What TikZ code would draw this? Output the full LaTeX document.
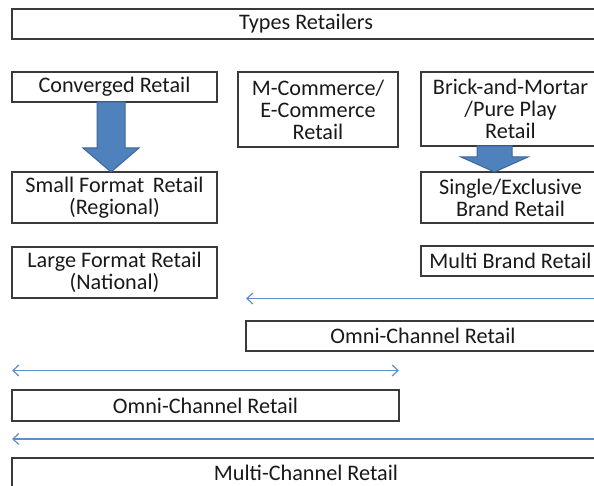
\documentclass[tikz,border=0pt]{standalone}
\usepackage{fontspec}
\setmainfont{Carlito}
\usetikzlibrary{arrows.meta}
\definecolor{boxline}{HTML}{3A3A3A}
\definecolor{arrowfill}{HTML}{4F81BD}
\definecolor{arrowedge}{HTML}{3C679A}
\definecolor{linkblue}{HTML}{5F8FCB}
\tikzset{
  box/.style={draw=boxline, line width=1.2pt, inner sep=0pt, outer sep=0pt,
    align=center, font=\fontsize{22.2}{22}\selectfont, text=black!90},
  fatarrow/.style={fill=arrowfill, draw=arrowedge, line width=1pt, line join=miter},
  link/.style={draw=linkblue, line width=1.2pt,
    arrows={-Straight Barb[length=6pt,width=11pt,line width=1.2pt]}},
  biglink/.style={link, arrows={Straight Barb[length=6pt,width=11pt,line width=1.2pt]-Straight Barb[length=6pt,width=11pt,line width=1.2pt]}}
}
\begin{document}
\begin{tikzpicture}[x=1pt, y=-1pt]
\useasboundingbox (0,0) rectangle (594,486);

% boxes (given by their corner spans)
\newcommand{\rbox}[6]{%
  \node[box, minimum width={#4-#2}, minimum height={#5-#3}]
    (#1) at ({(#2+#4)/2},{(#3+#5)/2}) {#6};}
\rbox{types}{12}{9}{600}{39}{Types Retailers}
\rbox{conv}{12}{72}{217}{102}{Converged Retail}
\rbox{mcom}{238}{72}{398}{147}{M-Commerce/\\E-Commerce\\Retail}
\rbox{brick}{421}{72}{600}{146}{Brick-and-Mortar\\/Pure Play\\Retail}
\rbox{small}{12}{172}{217}{223}{Small Format\ \,Retail\\(Regional)}
\rbox{large}{12}{247}{217}{298}{Large Format Retail\\(National)}
\rbox{single}{421}{172}{600}{223}{Single/Exclusive\\Brand Retail}
\rbox{multib}{421}{246}{600}{276}{Multi Brand Retail}
\rbox{omnia}{246}{321}{600}{351}{Omni-Channel Retail}
\rbox{omnib}{12}{390}{399}{421}{Omni-Channel Retail}
\rbox{multic}{12}{458}{600}{488}{Multi-Channel Retail}

% block arrows
\fill[fatarrow] (97,102) -- (125,102) -- (125,148) -- (139,148) -- (111,172)
  -- (83,148) -- (97,148) -- cycle;
\fill[fatarrow] (477,146) -- (512,146) -- (512,157) -- (528,157) -- (494.5,172)
  -- (461,157) -- (477,157) -- cycle;

% thin connectors
\coordinate (r1) at (600,298.5);
\coordinate (l1) at (omnia.west |- r1);
\coordinate (l2) at (12,370.5);
\coordinate (r2) at (omnib.east |- l2);
\coordinate (r3) at (600,439);
\coordinate (l3) at (12,439);
\draw[link] (r1) -- (l1);
\draw[biglink] (l2) -- (r2);
\draw[link] (r3) -- (l3);
\end{tikzpicture}
\end{document}
